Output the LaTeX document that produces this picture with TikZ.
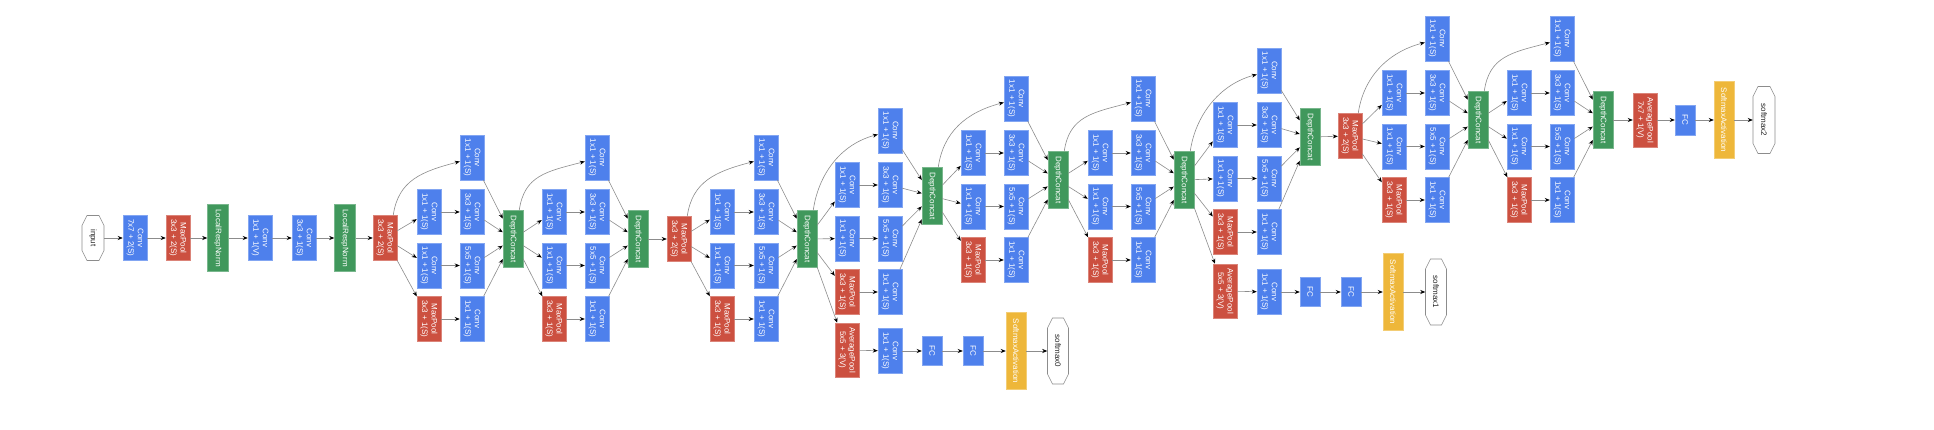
\documentclass[tikz,border=0pt]{standalone}
\usepackage{fontspec}
\setmainfont{Liberation Sans}
\usetikzlibrary{arrows.meta}
\definecolor{cblue}{RGB}{78,128,236}
\definecolor{cred}{RGB}{204,80,64}
\definecolor{cgreen}{RGB}{64,152,92}
\definecolor{cyellow}{RGB}{238,183,58}
\definecolor{cline}{RGB}{140,140,140}
\tikzset{
 blk/.style={rectangle, rotate=-90, inner sep=0pt, align=center, text=white, font=\fontsize{8}{9.5}\selectfont, line width=0.5pt},
 conv/.style={blk, fill=cblue, draw=cblue!70!white, minimum width=45pt, minimum height=24pt},
 pool/.style={blk, fill=cred, draw=cred!70!white, minimum width=45pt, minimum height=24pt},
 avgp/.style={pool, minimum width=54pt},
 concat/.style={blk, fill=cgreen, draw=cgreen!70!white, minimum width=57pt, minimum height=20pt},
 lrn/.style={concat, minimum width=67pt, minimum height=21pt},
 fc/.style={blk, fill=cblue, draw=cblue!70!white, minimum width=29pt, minimum height=20pt},
 smax/.style={blk, fill=cyellow, draw=cyellow!70!white, minimum width=77pt, minimum height=20pt},
 term/.style={blk, text=black!85, minimum height=22pt},
 octo/.style={draw=black!45, fill=white, line width=0.6pt},
 conn/.style={draw=cline, line width=0.6pt, -{Stealth[length=5pt,width=4pt,color=black]}},
}
% octagon outline: cx, cy, half width, half height
\newcommand{\octagonshape}[4]{%
 \draw[octo] ({#1-#3+5},{#2-#4}) -- ({#1+#3-5},{#2-#4}) -- ({#1+#3},{#2-#4+10}) -- ({#1+#3},{#2+#4-10}) -- ({#1+#3-5},{#2+#4}) -- ({#1-#3+5},{#2+#4}) -- ({#1-#3},{#2+#4-10}) -- ({#1-#3},{#2-#4+10}) -- cycle;}
% inception module: prefix, source, c1, c2, dcx, dcy, y2
\newcommand{\inceptionmod}[7]{%
 \node[conv] (#1t) at (#4,{#7-54.5}) {Conv\\1x1 + 1(S)};
 \node[conv] (#1a2) at (#3,#7) {Conv\\1x1 + 1(S)};
 \node[conv] (#1b2) at (#4,#7) {Conv\\3x3 + 1(S)};
 \node[conv] (#1a3) at (#3,{#7+53.5}) {Conv\\1x1 + 1(S)};
 \node[conv] (#1b3) at (#4,{#7+53.5}) {Conv\\5x5 + 1(S)};
 \node[pool] (#1a4) at (#3,{#7+107}) {MaxPool\\3x3 + 1(S)};
 \node[conv] (#1b4) at (#4,{#7+107}) {Conv\\1x1 + 1(S)};
 \node[concat] (#1dc) at (#5,#6) {DepthConcat};
 \draw[conn] ([xshift=-4pt]#2.north west) .. controls +(5,-35) and +(-38,10) .. ([yshift=-4pt]#1t.south);
 \draw[conn] (#2) -- (#1a2);
 \draw[conn] (#2) -- (#1a3);
 \draw[conn] (#2) -- (#1a4);
 \draw[conn] (#1a2) -- (#1b2);
 \draw[conn] (#1a3) -- (#1b3);
 \draw[conn] (#1a4) -- (#1b4);
 \draw[conn] (#1t) -- (#1dc);
 \draw[conn] (#1b2) -- (#1dc);
 \draw[conn] (#1b3) -- (#1dc);
 \draw[conn] (#1b4) -- (#1dc);
}
\begin{document}
\begin{tikzpicture}[x=1pt,y=-1pt]
\useasboundingbox[fill=white] (0,0) rectangle (1934,430);
% stem
\octagonshape{93}{238}{11}{22.5}
\node[term, minimum width=45pt] (input) at (93,238) {input};
\node[conv] (conv1) at (135,238) {Conv\\7x7 + 2(S)};
\node[pool] (pool1) at (178,238) {MaxPool\\3x3 + 2(S)};
\node[lrn] (lrn1) at (218,238) {LocalRespNorm};
\node[conv] (conv2) at (260,238) {Conv\\1x1 + 1(V)};
\node[conv] (conv3) at (304,238) {Conv\\3x3 + 1(S)};
\node[lrn] (lrn2) at (345,238) {LocalRespNorm};
\node[pool] (pool2) at (385,238) {MaxPool\\3x3 + 2(S)};
\draw[conn] (input) -- (conv1);
\draw[conn] (conv1) -- (pool1);
\draw[conn] (pool1) -- (lrn1);
\draw[conn] (lrn1) -- (conv2);
\draw[conn] (conv2) -- (conv3);
\draw[conn] (conv3) -- (lrn2);
\draw[conn] (lrn2) -- (pool2);
% inception 3
\inceptionmod{ia}{pool2}{429}{472}{513}{239}{212}
\inceptionmod{ib}{iadc}{554}{597}{638}{239}{212}
\node[pool] (pool3) at (679,239) {MaxPool\\3x3 + 2(S)};
\draw[conn] (ibdc) -- (pool3);
% inception 4
\inceptionmod{ic}{pool3}{722}{766}{807}{239}{212}
\inceptionmod{id}{icdc}{847}{890}{932}{196}{185}
\inceptionmod{ie}{iddc}{973}{1016}{1058}{180}{153}
\inceptionmod{if}{iedc}{1100}{1143}{1184}{180}{153}
\inceptionmod{ig}{ifdc}{1225}{1269}{1310}{137}{125}
% auxiliary classifier 0
\node[avgp] (ap0) at (847,350) {AveragePool\\5x5 + 3(V)};
\node[conv] (ac0) at (890,351) {Conv\\1x1 + 1(S)};
\node[fc] (fa0) at (932,351) {FC};
\node[fc] (fb0) at (973,351) {FC};
\node[smax] (sa0) at (1016,351) {SoftmaxActivation};
\octagonshape{1058}{351}{10.5}{33}
\node[term, minimum width=66pt, minimum height=21pt] (sm0) at (1058,351) {softmax0};
\draw[conn] (icdc) -- (ap0);
\draw[conn] (ap0) -- (ac0);
\draw[conn] (ac0) -- (fa0);
\draw[conn] (fa0) -- (fb0);
\draw[conn] (fb0) -- (sa0);
\draw[conn] (sa0) -- (sm0);
% auxiliary classifier 1
\node[avgp] (ap1) at (1225,291) {AveragePool\\5x5 + 3(V)};
\node[conv] (ac1) at (1269,292) {Conv\\1x1 + 1(S)};
\node[fc] (fa1) at (1310,292) {FC};
\node[fc] (fb1) at (1351,292) {FC};
\node[smax] (sa1) at (1393,292) {SoftmaxActivation};
\octagonshape{1436}{292}{10.5}{33}
\node[term, minimum width=66pt, minimum height=21pt] (sm1) at (1436,292) {softmax1};
\draw[conn] (ifdc) -- (ap1);
\draw[conn] (ap1) -- (ac1);
\draw[conn] (ac1) -- (fa1);
\draw[conn] (fa1) -- (fb1);
\draw[conn] (fb1) -- (sa1);
\draw[conn] (sa1) -- (sm1);
% inception 5
\node[pool] (pool4) at (1350,136) {MaxPool\\3x3 + 2(S)};
\draw[conn] (igdc) -- (pool4);
\inceptionmod{ih}{pool4}{1394}{1437}{1478}{120}{93}
\inceptionmod{ii}{ihdc}{1519}{1562}{1603}{120}{93}
% head
\node[avgp] (ap2) at (1645,120) {AveragePool\\7x7 + 1(V)};
\node[fc, minimum width=30pt] (fc2) at (1685,120) {FC};
\node[smax] (sa2) at (1724,120) {SoftmaxActivation};
\octagonshape{1764}{120}{11}{33.5}
\node[term, minimum width=67pt] (sm2) at (1764,120) {softmax2};
\draw[conn] (iidc) -- (ap2);
\draw[conn] (ap2) -- (fc2);
\draw[conn] (fc2) -- (sa2);
\draw[conn] (sa2) -- (sm2);
\end{tikzpicture}
\end{document}
